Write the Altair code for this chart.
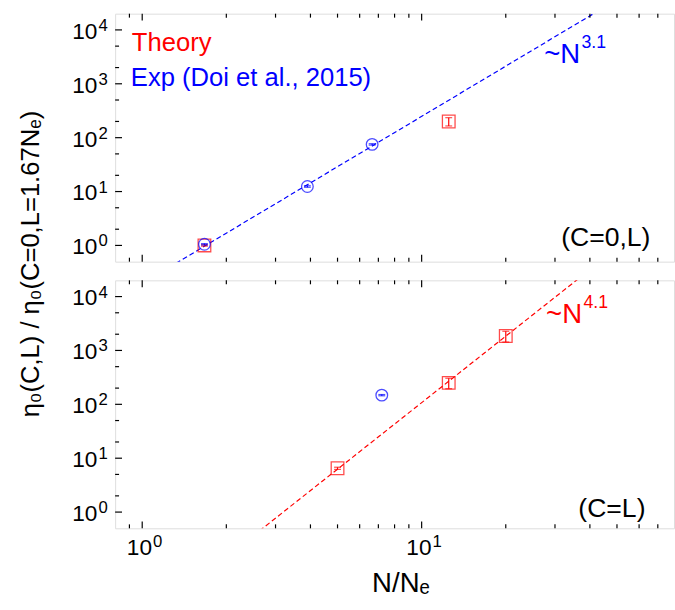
import altair as alt
import pandas as pd

# ---- data -------------------------------------------------------------
# upper panel: (C=0, L)
theory_ring_n = [1.67, 12.5]
theory_ring_eta = [1.0, 200.0]
theory_ring_err = [0.03, 35.0]
exp_ring_n = [1.67, 3.9, 6.65]
exp_ring_eta = [1.05, 12.4, 75.0]
exp_ring_err = [0.03, 0.4, 2.2]

# lower panel: (C=L)
theory_cl_n = [5.0, 12.5, 20.0]
theory_cl_eta = [6.5, 250.0, 1850.0]
theory_cl_err = [0.3, 55.0, 420.0]
exp_cl_n = [7.2]
exp_cl_eta = [148.0]
exp_cl_err = [4.0]

# power-law guides  eta ~ A * N^slope
slope_ring, pref_ring = 3.1, 0.197
slope_cl, pref_cl = 4.1, 0.00853
guide_n = [1.0, 100.0]

# axis ticks and their labels (10^exponent)
x_major = [1, 10]
x_major_exp = ["0", "1"]
x_minor = [0.9, 2, 3, 4, 5, 6, 7, 8, 9, 20, 30, 40, 50, 60, 70]
y_major = [1, 10, 100, 1000, 10000]
y_major_exp = ["0", "1", "2", "3", "4"]
y_minor = [2, 5, 20, 50, 200, 500, 2000, 5000]

# ---- style ------------------------------------------------------------
W, H = 568, 252
XDOM = [0.8, 80]
YDOM = [0.5, 20000]
FONT = "Liberation Sans"
RED = "#ff0000"
BLUE = "#0000ff"
MAJ, MIN = 7, 4

xs = alt.Scale(type="log", domain=XDOM, nice=False)
ys = alt.Scale(type="log", domain=YDOM, nice=False)


def panel(th_n, th_eta, th_err, ex_n, ex_eta, ex_err, slope, pref, color,
          tag, tag_x, tag_y, pw_x, pw_y, show_x, show_ytitle, legend):
    common = dict(labels=False, ticks=False, tickSize=0, domain=False, grid=False)
    if show_x:
        xaxis = alt.Axis(values=x_major, title="N/N\u2091", titleFont=FONT,
                         titleFontSize=28, titleFontWeight="normal", titleColor="black",
                         titleX=W / 2 + 6, titleY=64, titleBaseline="alphabetic",
                         titleAlign="center", **common)
    else:
        xaxis = None
    if show_ytitle:
        yaxis = alt.Axis(values=y_major,
                         title="\u03b7\u2080(C,L) / \u03b7\u2080(C=0,L=1.67N\u2091)",
                         titleFont=FONT, titleFontSize=26, titleFontWeight="normal",
                         titleColor="black", titleX=-73, titleY=254,
                         titleAngle=270, titleAlign="center", titleBaseline="bottom",
                         **common)
    else:
        yaxis = None

    def X(f):
        return alt.X(f, scale=xs, axis=xaxis)

    def Y(f):
        return alt.Y(f, scale=ys, axis=yaxis)

    def errbars(n, eta, err, c):
        df = pd.DataFrame({"n": n, "lo": [e - d for e, d in zip(eta, err)],
                           "hi": [e + d for e, d in zip(eta, err)]})
        base = alt.Chart(df)
        bar = base.mark_rule(color=c, strokeWidth=1.2).encode(
            x=X("n:Q"), y=Y("lo:Q"), y2="hi:Q")
        lo = base.mark_tick(color=c, orient="horizontal", size=7, thickness=1.2).encode(
            x=X("n:Q"), y=Y("lo:Q"))
        hi = base.mark_tick(color=c, orient="horizontal", size=7, thickness=1.2).encode(
            x=X("n:Q"), y=Y("hi:Q"))
        return [bar, lo, hi]

    def frame_ticks():
        out = []
        for vals, L in ((x_major, MAJ), (x_minor, MIN)):
            d = alt.Chart(pd.DataFrame({"v": vals}))
            out.append(d.mark_rule(color="black", strokeWidth=1.2).encode(
                x=X("v:Q"), y=alt.value(H), y2=alt.value(H - L)))
            out.append(d.mark_rule(color="black", strokeWidth=1.2).encode(
                x=X("v:Q"), y=alt.value(0), y2=alt.value(L)))
        for vals, L in ((y_major, MAJ), (y_minor, MIN)):
            d = alt.Chart(pd.DataFrame({"v": vals}))
            out.append(d.mark_rule(color="black", strokeWidth=1.2).encode(
                y=Y("v:Q"), x=alt.value(0), x2=alt.value(L)))
        return out

    def tick_labels():
        out = []
        yd = alt.Chart(pd.DataFrame({"v": y_major, "e": y_major_exp}))
        out.append(yd.mark_text(font=FONT, fontSize=23, align="right",
                                baseline="alphabetic", dy=9, color="black").encode(
            y=Y("v:Q"), x=alt.value(-18), text=alt.value("10")))
        out.append(yd.mark_text(font=FONT, fontSize=17, align="left",
                                baseline="alphabetic", dy=1, color="black").encode(
            y=Y("v:Q"), x=alt.value(-17), text="e:N"))
        if show_x:
            xd = alt.Chart(pd.DataFrame({"v": x_major, "e": x_major_exp}))
            out.append(xd.mark_text(font=FONT, fontSize=23, align="right",
                                    baseline="alphabetic", dx=10, color="black").encode(
                x=X("v:Q"), y=alt.value(H + 27), text=alt.value("10")))
            out.append(xd.mark_text(font=FONT, fontSize=17, align="left",
                                    baseline="alphabetic", dx=11, color="black").encode(
                x=X("v:Q"), y=alt.value(H + 19), text="e:N"))
        return out

    def text(label, x, y, c, size=27, align="left"):
        return alt.Chart(pd.DataFrame({"t": [label]})).mark_text(
            font=FONT, fontSize=size, color=c, align=align, baseline="alphabetic"
        ).encode(text="t:N", x=alt.value(x), y=alt.value(y))

    guide = pd.DataFrame({"n": guide_n, "eta": [pref * v ** slope for v in guide_n]})
    line = alt.Chart(guide).mark_line(color=color, strokeDash=[5, 3], strokeWidth=1.2,
                                      clip=True).encode(x=X("n:Q"), y=Y("eta:Q"))

    th = pd.DataFrame({"n": th_n, "eta": th_eta})
    ex = pd.DataFrame({"n": ex_n, "eta": ex_eta})
    sq = alt.Chart(th).mark_point(shape="square", filled=False, size=165, color=RED,
                                  strokeWidth=1.3).encode(x=X("n:Q"), y=Y("eta:Q"))
    ci = alt.Chart(ex).mark_point(shape="circle", filled=False, size=140, color=BLUE,
                                  strokeWidth=1.3).encode(x=X("n:Q"), y=Y("eta:Q"))

    layers = [line] + errbars(th_n, th_eta, th_err, RED) + [sq] \
        + errbars(ex_n, ex_eta, ex_err, BLUE) + [ci] + frame_ticks() + tick_labels()
    layers.append(text(tag, tag_x, tag_y, "black", 27, "right"))
    layers.append(text("~N", pw_x, pw_y, color, 28))
    layers.append(text(f"{slope}", pw_x + 38, pw_y - 15, color, 18))
    if legend:
        layers.append(text("Theory", 17, 38, RED, 26))
        layers.append(text("Exp (Doi et al., 2015)", 16, 73, BLUE, 26))
    return alt.layer(*layers).properties(width=W, height=H)


top = panel(theory_ring_n, theory_ring_eta, theory_ring_err,
            exp_ring_n, exp_ring_eta, exp_ring_err, slope_ring, pref_ring, BLUE,
            "(C=0,L)", 544, 236, 436, 50, False, True, True)
bottom = panel(theory_cl_n, theory_cl_eta, theory_cl_err,
               exp_cl_n, exp_cl_eta, exp_cl_err, slope_cl, pref_cl, RED,
               "(C=L)", 539, 241, 438, 43, True, False, False)

chart = alt.VConcatChart(vconcat=[top, bottom], spacing=19, bounds="flush").properties(
    padding={"left": 17, "top": 7, "right": 0, "bottom": 0}
).configure_view(stroke="black", strokeWidth=1.6).configure(background="white")

chart.save("out.html", embed_options={"renderer": "svg", "actions": False})
